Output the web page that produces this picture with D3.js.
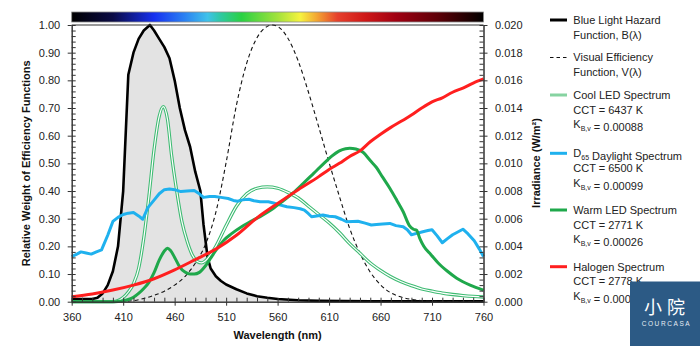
<!DOCTYPE html>
<html>
<head>
<meta charset="utf-8">
<script src="https://cdn.jsdelivr.net/npm/d3@7"></script>
<style>
  body { margin: 0; background: #fff; }
  svg { display: block; font-family: "Liberation Sans", Arial, sans-serif; }
</style>
</head>
<body>
<svg id="chart" width="700" height="346"></svg>
<script>
// --- blue light hazard function B(λ), relative weight
const hazardNm  = [360, 380, 385, 390, 395, 400, 405, 410, 415, 420, 425, 430, 436, 440, 445, 450, 455, 460, 465, 470, 475, 480, 485, 488, 492, 495, 500, 505, 510, 520, 530, 540, 550, 560, 580, 600, 650, 700, 760];
const hazardVal = [0.01, 0.01, 0.014, 0.03, 0.06, 0.11, 0.2, 0.4, 0.82, 0.9, 0.95, 0.98, 1.0, 0.98, 0.95, 0.92, 0.88, 0.8, 0.7, 0.62, 0.56, 0.47, 0.40, 0.28, 0.16, 0.12, 0.092, 0.075, 0.062, 0.045, 0.03, 0.02, 0.014, 0.01, 0.005, 0.003, 0.0015, 0.001, 0.001];

// --- photopic visual efficiency V(λ), relative weight
const visualNm  = [360, 380, 390, 400, 410, 420, 430, 440, 450, 460, 470, 480, 490, 500, 510, 520, 530, 540, 550, 555, 560, 570, 580, 590, 600, 610, 620, 630, 640, 650, 660, 670, 680, 690, 700, 710, 720, 740, 760];
const visualVal = [0, 0.00004, 0.00012, 0.0004, 0.0012, 0.004, 0.0116, 0.023, 0.038, 0.06, 0.091, 0.139, 0.208, 0.323, 0.503, 0.71, 0.862, 0.954, 0.995, 1.0, 0.995, 0.952, 0.87, 0.757, 0.631, 0.503, 0.381, 0.265, 0.175, 0.107, 0.061, 0.032, 0.017, 0.0082, 0.0041, 0.0021, 0.001, 0.00025, 0.00006];

// --- irradiance spectra (W/m²)
const coolNm  = [360, 400, 405, 410, 415, 420, 425, 430, 435, 440, 445, 449, 453, 457, 462, 467, 472, 477, 482, 486, 490, 495, 500, 510, 520, 530, 540, 550, 560, 570, 580, 590, 600, 610, 620, 630, 640, 650, 660, 670, 680, 690, 700, 710, 720, 730, 740, 750, 760];
const coolVal = [0, 0, 0.00008, 0.0003, 0.0007, 0.0013, 0.0024, 0.0046, 0.0076, 0.011, 0.0134, 0.0141, 0.0132, 0.0106, 0.008, 0.0058, 0.0044, 0.0034, 0.0029, 0.0028, 0.00296, 0.0034, 0.004, 0.0055, 0.0069, 0.0078, 0.0082, 0.0083, 0.0082, 0.0079, 0.0075, 0.0069, 0.0063, 0.0057, 0.005, 0.0042, 0.0035, 0.0028, 0.00226, 0.0018, 0.00144, 0.00116, 0.00092, 0.00076, 0.00062, 0.00052, 0.00044, 0.00038, 0.00034];

const daylightNm  = [360, 365, 369, 374, 379, 384, 389, 395, 400, 405, 410, 415, 420, 425, 429, 434, 440, 445, 450, 455, 460, 466, 472, 479, 484, 488, 494, 499, 505, 512, 517, 521, 526, 532, 537, 543, 551, 556, 562, 569, 576, 582, 586, 590, 593, 598, 604, 610, 616, 622, 627, 633, 638, 645, 651, 656, 662, 669, 675, 682, 686, 690, 695, 701, 706, 710, 715, 720, 725, 730, 735, 740, 745, 751, 756, 760];
const daylightVal = [0.00326, 0.00344, 0.0036, 0.00352, 0.00344, 0.0036, 0.00374, 0.0048, 0.0058, 0.0061, 0.0063, 0.0064, 0.00644, 0.0062, 0.00596, 0.0068, 0.00734, 0.0078, 0.0081, 0.00814, 0.0081, 0.00796, 0.008, 0.00804, 0.0078, 0.00754, 0.0076, 0.0076, 0.00754, 0.00746, 0.00732, 0.00726, 0.00736, 0.0074, 0.0073, 0.00722, 0.00722, 0.00714, 0.007, 0.00686, 0.0068, 0.00672, 0.00662, 0.00636, 0.00614, 0.0062, 0.00626, 0.00618, 0.00614, 0.00596, 0.00578, 0.0058, 0.00582, 0.00568, 0.00554, 0.00558, 0.00562, 0.00566, 0.0055, 0.00542, 0.0052, 0.00484, 0.00494, 0.00506, 0.00514, 0.0052, 0.00476, 0.00426, 0.00456, 0.00484, 0.00504, 0.00524, 0.0049, 0.0044, 0.0038, 0.00326];

const warmNm  = [360, 400, 405, 410, 415, 420, 425, 430, 435, 440, 445, 450, 453, 456, 460, 465, 470, 475, 479, 484, 490, 495, 500, 508, 515, 525, 535, 545, 555, 565, 575, 585, 595, 605, 612, 620, 626, 630, 636, 643, 650, 656, 662, 669, 676, 682, 688, 692, 695, 698, 702, 709, 716, 725, 734, 747, 760];
const warmVal = [0, 0, 0.00002, 0.00006, 0.00016, 0.00032, 0.0006, 0.00096, 0.0014, 0.0021, 0.003, 0.00366, 0.00386, 0.0037, 0.0032, 0.0025, 0.00214, 0.002, 0.002, 0.00212, 0.0026, 0.00314, 0.0037, 0.00446, 0.0049, 0.00542, 0.00584, 0.00624, 0.0067, 0.00726, 0.00786, 0.00856, 0.00928, 0.01, 0.01048, 0.0109, 0.01106, 0.0111, 0.01104, 0.0108, 0.0102, 0.0097, 0.009, 0.0082, 0.0073, 0.0065, 0.0055, 0.00524, 0.00516, 0.0046, 0.004, 0.0034, 0.0028, 0.0022, 0.0017, 0.0012, 0.00084];

const halogenNm  = [360, 380, 400, 420, 440, 460, 480, 500, 520, 540, 560, 580, 600, 610, 620, 630, 640, 650, 660, 670, 680, 690, 700, 710, 720, 730, 740, 750, 760];
const halogenVal = [0.00036, 0.00056, 0.00084, 0.0012, 0.00166, 0.0023, 0.00304, 0.0038, 0.0048, 0.00606, 0.0071, 0.0081, 0.00904, 0.00956, 0.01, 0.0105, 0.0109, 0.01156, 0.0121, 0.0126, 0.01304, 0.0135, 0.014, 0.01444, 0.01474, 0.01514, 0.01544, 0.0158, 0.0161];

// --- colour bar across the top
const barNm     = [360, 400, 440, 470, 492, 505, 525, 560, 582, 598, 618, 645, 675, 715, 750, 760];
const barColors = ["#000000", "#0b0b45", "#1630f0", "#2b82f2", "#3fc2ea", "#2fc9a0", "#2ad143", "#a2e23c", "#f6f33f", "#f3a632", "#e6402c", "#cf1818", "#a00012", "#5e0008", "#160000", "#000000"];

// --- axis ticks and legend text
const xTicks      = [360, 410, 460, 510, 560, 610, 660, 710, 760];
const leftTicks   = [0, 0.1, 0.2, 0.3, 0.4, 0.5, 0.6, 0.7, 0.8, 0.9, 1.0];
const rightTicks  = [0, 0.002, 0.004, 0.006, 0.008, 0.010, 0.012, 0.014, 0.016, 0.018, 0.020];
const legendNames = [
  ["Blue Light Hazard", "Function, B(λ)"],
  ["Visual Efficiency", "Function, V(λ)"],
  ["Cool LED Spectrum", "CCT = 6437 K", "K_{B,v} = 0.00088"],
  ["D_{65} Daylight Spectrum", "CCT = 6500 K", "K_{B,v} = 0.00099"],
  ["Warm LED Spectrum", "CCT = 2771 K", "K_{B,v} = 0.00026"],
  ["Halogen Spectrum", "CCT = 2778 K", "K_{B,v} = 0.000"]
];

const svg = d3.select("#chart");
const plotL = 71.7, plotR = 483.5, plotT = 25, plotB = 301.7;

const x = d3.scaleLinear().domain([360, 760]).range([plotL, plotR]);
const yL = d3.scaleLinear().domain([0, 1]).range([plotB, plotT]);
const yR = d3.scaleLinear().domain([0, 0.02]).range([plotB, plotT]);

const zip = (a, b) => a.map((d, i) => [d, b[i]]);

// spectrum colour bar
const grad = svg.append("defs").append("linearGradient")
    .attr("id", "spectrum")
    .attr("x1", "0%").attr("x2", "100%");
grad.selectAll("stop")
  .data(zip(barNm, barColors))
  .enter().append("stop")
    .attr("offset", d => ((d[0] - 360) / 400 * 100) + "%")
    .attr("stop-color", d => d[1]);

svg.append("rect")
    .attr("x", x(360))
    .attr("y", 12)
    .attr("width", x(760) - x(360))
    .attr("height", 10)
    .attr("fill", "url(#spectrum)")
    .attr("stroke", "#8c8c8c")
    .attr("stroke-width", 0.8);

// hazard area
const hazard = zip(hazardNm, hazardVal);
svg.append("path")
    .datum(hazard)
    .attr("fill", "#e3e3e3")
    .attr("d", d3.area().x(d => x(d[0])).y0(yL(0)).y1(d => yL(d[1])));

svg.append("path")
    .datum(hazard)
    .attr("fill", "none")
    .attr("stroke", "#000")
    .attr("stroke-width", 2.6)
    .attr("stroke-linejoin", "round")
    .attr("d", d3.line().x(d => x(d[0])).y(d => yL(d[1])));

// visual efficiency, dashed
svg.append("path")
    .datum(zip(visualNm, visualVal))
    .attr("fill", "none")
    .attr("stroke", "#111")
    .attr("stroke-width", 1.1)
    .attr("stroke-dasharray", "4,3")
    .attr("d", d3.line().curve(d3.curveMonotoneX).x(d => x(d[0])).y(d => yL(d[1])));

const lineR = d3.line().curve(d3.curveMonotoneX).x(d => x(d[0])).y(d => yR(d[1]));

// cool LED as a double line
const cool = zip(coolNm, coolVal);
svg.append("path").datum(cool)
    .attr("fill", "none").attr("stroke", "#3dbb72").attr("stroke-width", 3.3)
    .attr("d", lineR);
svg.append("path").datum(cool)
    .attr("fill", "none").attr("stroke", "#fff").attr("stroke-width", 1.2)
    .attr("d", lineR);

svg.append("path")
    .datum(zip(daylightNm, daylightVal))
    .attr("fill", "none")
    .attr("stroke", "#1fb1ee")
    .attr("stroke-width", 3)
    .attr("stroke-linejoin", "round")
    .attr("d", d3.line().x(d => x(d[0])).y(d => yR(d[1])));

svg.append("path")
    .datum(zip(warmNm, warmVal))
    .attr("fill", "none")
    .attr("stroke", "#1fa84b")
    .attr("stroke-width", 3)
    .attr("d", lineR);

svg.append("path")
    .datum(zip(halogenNm, halogenVal))
    .attr("fill", "none")
    .attr("stroke", "#ff1f1f")
    .attr("stroke-width", 3)
    .attr("d", lineR);

// axes: outward major ticks with labels, inward minor ticks
const axisColor = "#333";
function styleAxis(g) {
  g.selectAll("path, line").attr("stroke", axisColor);
  g.selectAll("text").attr("fill", "#222").style("font-size", "11px").style("font-family", "Liberation Sans, Arial, sans-serif");
}

svg.append("g")
    .attr("transform", `translate(0,${plotB})`)
    .call(d3.axisBottom(x).tickValues(xTicks).tickSize(4).tickSizeOuter(0).tickPadding(8))
    .call(styleAxis);
svg.append("g")
    .attr("transform", `translate(0,${plotB})`)
    .call(d3.axisBottom(x).tickValues(d3.range(0, 41).map(i => 360 + i * 10)).tickSize(-4).tickSizeOuter(0).tickFormat(""))
    .call(styleAxis);

svg.append("g")
    .attr("transform", `translate(${plotL},0)`)
    .call(d3.axisLeft(yL).tickValues(leftTicks).tickSize(4).tickSizeOuter(0).tickPadding(7.5).tickFormat(d3.format(".2f")))
    .call(styleAxis);
svg.append("g")
    .attr("transform", `translate(${plotL},0)`)
    .call(d3.axisLeft(yL).tickValues(d3.range(0, 51).map(i => i * 0.02)).tickSize(-4).tickSizeOuter(0).tickFormat(""))
    .call(styleAxis);

svg.append("g")
    .attr("transform", `translate(${plotR},0)`)
    .call(d3.axisRight(yR).tickValues(rightTicks).tickSize(4).tickSizeOuter(0).tickPadding(7.5).tickFormat(d3.format(".3f")))
    .call(styleAxis);
svg.append("g")
    .attr("transform", `translate(${plotR},0)`)
    .call(d3.axisRight(yR).tickValues(d3.range(0, 51).map(i => i * 0.0004)).tickSize(-4).tickSizeOuter(0).tickFormat(""))
    .call(styleAxis);

// top edge of the plot frame
svg.append("line")
    .attr("x1", plotL).attr("x2", plotR)
    .attr("y1", plotT).attr("y2", plotT)
    .attr("stroke", axisColor);

// axis titles
svg.append("text")
    .attr("transform", `translate(26.5,${(plotT + plotB) / 2}) rotate(-90)`)
    .attr("text-anchor", "middle")
    .attr("dy", "0.35em")
    .style("font", "bold 11px 'Liberation Sans', Arial, sans-serif")
    .attr("fill", "#111")
    .text("Relative Weight of Efficiency Functions");

svg.append("text")
    .attr("transform", "translate(536,163) rotate(-90)")
    .attr("text-anchor", "middle")
    .attr("dy", "0.35em")
    .style("font", "bold 11px 'Liberation Sans', Arial, sans-serif")
    .attr("fill", "#111")
    .text("Irradiance (W/m²)");

svg.append("text")
    .attr("x", (plotL + plotR) / 2)
    .attr("y", 338.5)
    .attr("text-anchor", "middle")
    .style("font", "bold 11px 'Liberation Sans', Arial, sans-serif")
    .attr("fill", "#111")
    .text("Wavelength (nm)");

// legend
const legendTop = [20, 57.5, 95, 153.3, 210, 266.7];
const legendStyle = [
  {stroke: "#000", width: 3, dash: null},
  {stroke: "#111", width: 1.1, dash: "3.5,3"},
  {stroke: "#86d3a1", width: 3, dash: null},
  {stroke: "#1fb1ee", width: 3, dash: null},
  {stroke: "#1fa84b", width: 3, dash: null},
  {stroke: "#ff1f1f", width: 3, dash: null}
];

const entry = svg.append("g")
  .selectAll("g")
  .data(legendNames)
  .enter().append("g")
    .attr("transform", (d, i) => `translate(0,${legendTop[i]})`);

entry.append("line")
    .attr("x1", 550).attr("x2", 567)
    .attr("stroke", (d, i) => legendStyle[i].stroke)
    .attr("stroke-width", (d, i) => legendStyle[i].width)
    .attr("stroke-dasharray", (d, i) => legendStyle[i].dash);

entry.each(function(lines) {
  const g = d3.select(this);
  lines.forEach((str, j) => {
    const t = g.append("text")
        .attr("x", 573.3)
        .attr("y", j * 14.7)
        .attr("dy", "0.35em")
        .attr("fill", "#222")
        .style("font-size", "11px");
    // "_{...}" marks a subscript
    str.split(/_\{([^}]*)\}/).forEach((part, k) => {
      if (!part) return;
      if (k % 2) {
        t.append("tspan").attr("dy", 3).style("font-size", "7px").text(part);
        t.append("tspan").attr("dy", -3).text("");
      } else {
        t.append("tspan").text(part);
      }
    });
  });
});

// badge in the corner
svg.append("rect")
    .attr("x", 630).attr("y", 281.5)
    .attr("width", 70).attr("height", 64.5)
    .attr("fill", "#2c5a85");
svg.append("text")
    .attr("x", 667).attr("y", 314)
    .attr("text-anchor", "middle")
    .attr("fill", "#fff")
    .style("font", "18px 'Noto Sans CJK SC', sans-serif")
    .style("letter-spacing", "5px")
    .text("小院");
svg.append("text")
    .attr("x", 666.5).attr("y", 325.5)
    .attr("text-anchor", "middle")
    .attr("fill", "#e6edf4")
    .style("font", "6.5px 'Liberation Sans', Arial, sans-serif")
    .style("letter-spacing", "1.6px")
    .text("COURCASA");
</script>
</body>
</html>
